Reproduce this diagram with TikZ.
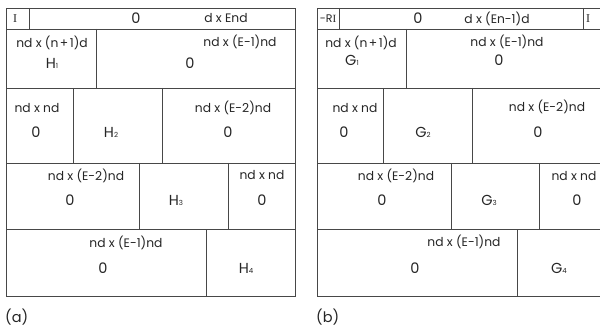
\documentclass[tikz,border=0pt]{standalone}
\usepackage{fontspec}
\setmainfont{Poppins}
\newfontfamily\serifI{Liberation Serif}
\newcommand{\sbs}[1]{{\fontsize{7}{8}\selectfont #1}}
\newcommand{\npo}{(n\kern1.5pt+\kern1.5pt1)}
\begin{document}
\begin{tikzpicture}[x=1pt,y=-1pt,
  grid/.style={draw=black!72,line width=0.8pt},
  lbl/.style={font=\fontsize{12.3}{14}\selectfont,inner sep=0pt,text=black!85},
  big/.style={font=\fontsize{14.5}{16}\selectfont,inner sep=0pt,text=black!85}]
\clip (0,0) rectangle (600,334);
\fill[white] (0,0) rectangle (600,334);
% ---------- panel (a)
\draw[grid] (6,8) rectangle (295,296);
\foreach \yy in {29,88,163,229} \draw[grid] (6,\yy) -- (295,\yy);
\draw[grid] (29,8) -- (29,29);
\draw[grid] (96,29) -- (96,88);
\draw[grid] (73,88) -- (73,163);
\draw[grid] (162,88) -- (162,163);
\draw[grid] (139,163) -- (139,229);
\draw[grid] (228,163) -- (228,229);
\draw[grid] (206,229) -- (206,296);
\node[lbl,font=\serifI\fontsize{12}{12}\selectfont] (aI) at (15,18.5) {I};
\node[big] (a0) at (136,18.5) {0};
\node[lbl] (adx) at (226,18.5) {d x End};
\node[lbl] (a2l) at (52,43) {nd x \npo d};
\node[big] (aH1) at (52,63) {H\sbs{1}};
\node[lbl] (a2r) at (240,42) {nd x (E-1)nd};
\node[big] (a20) at (190,63) {0};
\node[lbl] (a3l) at (37,108) {nd x nd};
\node[big] (a30) at (36,132) {0};
\node[big] (aH2) at (111,132) {H\sbs{2}};
\node[lbl] (a3r) at (233,108) {nd x (E-2)nd};
\node[big] (a3r0) at (228,132) {0};
\node[lbl] (a4l) at (86,176) {nd x (E-2)nd};
\node[big] (a40) at (70,200) {0};
\node[big] (aH3) at (176,200) {H\sbs{3}};
\node[lbl] (a4r) at (262,175) {nd x nd};
\node[big] (a4r0) at (262,200) {0};
\node[lbl] (a5l) at (126,243) {nd x (E-1)nd};
\node[big] (a50) at (103,268) {0};
\node[big] (aH4) at (246,268) {H\sbs{4}};
\node[big,anchor=west] (alab) at (5,317) {(a)};
% ---------- panel (b)
\draw[grid] (317,8) rectangle (610,296);
\foreach \yy in {29,88,163,229} \draw[grid] (317,\yy) -- (610,\yy);
\draw[grid] (339,8) -- (339,29);
\draw[grid] (583,8) -- (583,29);
\draw[grid] (406,29) -- (406,88);
\draw[grid] (383,88) -- (383,163);
\draw[grid] (472,88) -- (472,163);
\draw[grid] (451,163) -- (451,229);
\draw[grid] (539,163) -- (539,229);
\draw[grid] (517,229) -- (517,296);
\node[lbl,font=\fontsize{11}{12}\selectfont] (bRI) at (328,18.5) {-R{\serifI I}};
\node[big] (b0) at (418,18.5) {0};
\node[lbl] (bdx) at (497,18.5) {d x (En-1)d};
\node[lbl,font=\serifI\fontsize{12}{12}\selectfont] (bI) at (588,18.5) {I};
\node[lbl] (b2l) at (361,43) {nd x \npo d};
\node[big] (bG1) at (352,60) {G\sbs{1}};
\node[lbl] (b2r) at (507,42) {nd x (E-1)nd};
\node[big] (b20) at (499,60) {0};
\node[lbl] (b3l) at (355,108) {nd x nd};
\node[big] (b30) at (344,132) {0};
\node[big] (bG2) at (423,132) {G\sbs{2}};
\node[lbl] (b3r) at (547,107) {nd x (E-2)nd};
\node[big] (b3r0) at (538,132) {0};
\node[lbl] (b4l) at (396,176) {nd x (E-2)nd};
\node[big] (b40) at (382,200) {0};
\node[big] (bG3) at (489,200) {G\sbs{3}};
\node[lbl] (b4r) at (574,176) {nd x nd};
\node[big] (b4r0) at (577,200) {0};
\node[lbl] (b5l) at (464,242) {nd x (E-1)nd};
\node[big] (b50) at (415,268) {0};
\node[big] (bG4) at (559,268) {G\sbs{4}};
\node[big,anchor=west] (blab) at (316,317) {(b)};
\end{tikzpicture}
\end{document}
